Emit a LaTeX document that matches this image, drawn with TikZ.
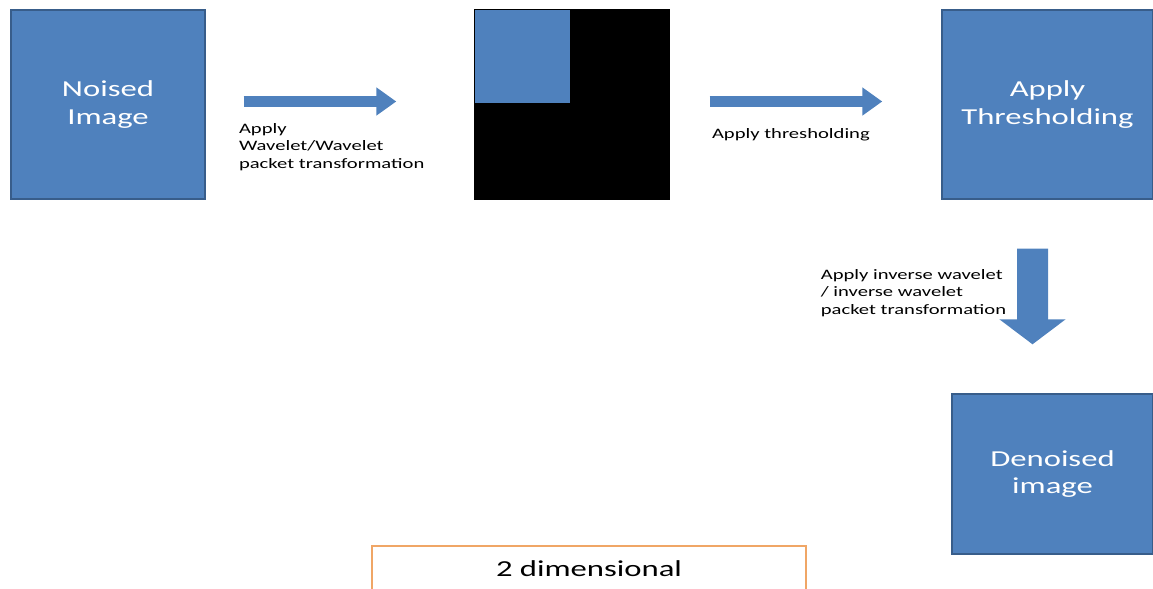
\documentclass[tikz,border=0pt]{standalone}
\usepackage{fontspec}
\setmainfont{Carlito}[FakeStretch=1.43]
\usetikzlibrary{arrows.meta}
\usetikzlibrary{positioning}
\definecolor{boxblue}{RGB}{79,129,189}
\definecolor{boxedge}{RGB}{56,93,138}
\definecolor{tagorange}{RGB}{240,166,102}

\begin{document}
\begin{tikzpicture}[x=0.2mm,y=-0.2mm]
\tikzstyle{every node}=[font=\fontsize{13}{15.9}\selectfont]
\tikzstyle{block}=[draw=boxedge, fill=boxblue, line width=0.8pt, text=white, align=center, minimum width=38.8mm, minimum height=37.8mm, inner sep=0pt]
\tikzstyle{fat}=[boxblue, line width=2.2mm, -{Triangle[width=5.4mm,length=4mm]}]
\tikzstyle{lbl}=[font=\fontsize{8.2}{10}\selectfont, align=left, inner sep=0pt]
\useasboundingbox (0,0) rectangle (1153,588);
% the three stages and the result
\node [block] (noised) at (108,104.5) {Noised\\Image};
\node [block, fill=black, draw=black] (coef) at (572,104.5) {};
\node [block, draw=none, minimum width=19mm, minimum height=18.6mm, anchor=north west] (approx) at (coef.north west) {};
\node [block, minimum width=42.2mm] (thresh) at (1047.5,104.5) {Apply\\Thresholding};
\node [block, minimum width=40.2mm, minimum height=32mm] (denoised) at (1052.5,474) {Denoised\\image};
\node [draw=tagorange, line width=1.6pt, minimum width=86.8mm, minimum height=9.2mm, inner sep=0pt] (dim) at (589,569) {2 dimensional};
% block arrows
\coordinate (a1s) at ([xshift=7.6mm,yshift=0.6mm]noised.east);
\coordinate (a1e) at ([xshift=-15.6mm,yshift=0.6mm]coef.west);
\coordinate (a2s) at ([xshift=8mm,yshift=0.6mm]coef.east);
\coordinate (a2e) at ([xshift=-11.8mm,yshift=0.6mm]thresh.west);
\coordinate (a3s) at ([xshift=-3mm,yshift=-9.8mm]thresh.south);
\coordinate (a3e) at ([xshift=-4mm,yshift=9.8mm]denoised.north);
\draw [fat] (a1s) -- (a1e);
\draw [fat] (a2s) -- (a2e);
\draw [fat, line width=6.2mm, -{Triangle[width=13mm,length=5mm]}] (a3s) -- (a3e);
% labels
\node [lbl, anchor=north west] (t1) at ([xshift=-1mm,yshift=-4.3mm]a1s) {Apply\\Wavelet/Wavelet\\packet transformation};
\node [lbl, anchor=base west] (t2) at ([xshift=0.4mm,yshift=-7.3mm]a2s) {Apply thresholding};
\node [lbl, anchor=north west] (t3) at ([xshift=-42.4mm,yshift=-4mm]a3s) {Apply inverse wavelet\\/ inverse wavelet\\packet transformation};
\end{tikzpicture}
\end{document}
